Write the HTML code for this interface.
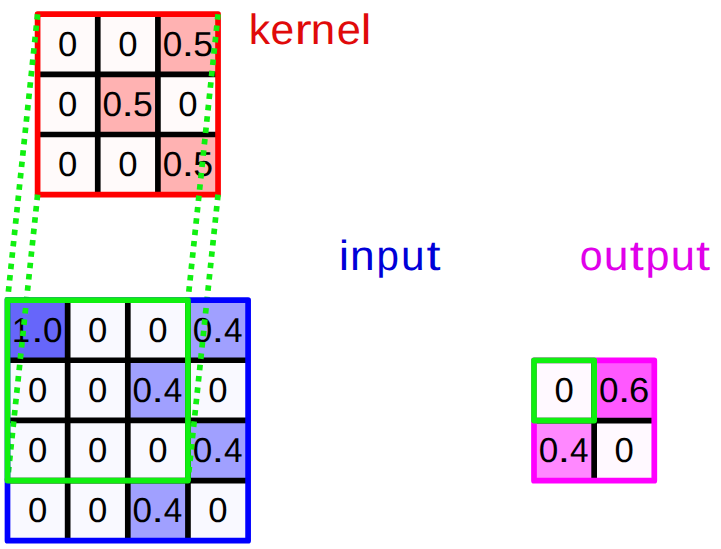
<!DOCTYPE html>
<html><head><meta charset="utf-8"><style>
html,body{margin:0;padding:0;background:#fff;width:721px;height:549px;overflow:hidden}
svg{display:block}
</style></head><body>
<svg width="721" height="549" viewBox="0 0 721 549">
<defs><clipPath id="dc" clipPathUnits="userSpaceOnUse"><rect x="0" y="-60" width="100" height="67.8"/></clipPath></defs>
<rect width="721" height="549" fill="#fff"/>
<rect x="37.60" y="14.20" width="60.65" height="60.65" fill="#fffafa"/>
<rect x="97.75" y="14.20" width="60.65" height="60.65" fill="#fffafa"/>
<rect x="157.90" y="14.20" width="60.65" height="60.65" fill="#ffb2b2"/>
<rect x="37.60" y="74.35" width="60.65" height="60.65" fill="#fffafa"/>
<rect x="97.75" y="74.35" width="60.65" height="60.65" fill="#ffb2b2"/>
<rect x="157.90" y="74.35" width="60.65" height="60.65" fill="#fffafa"/>
<rect x="37.60" y="134.50" width="60.65" height="60.65" fill="#fffafa"/>
<rect x="97.75" y="134.50" width="60.65" height="60.65" fill="#fffafa"/>
<rect x="157.90" y="134.50" width="60.65" height="60.65" fill="#ffb2b2"/>
<line x1="97.75" y1="14.20" x2="97.75" y2="194.65" stroke="#000" stroke-width="5.7"/>
<line x1="37.60" y1="74.35" x2="218.05" y2="74.35" stroke="#000" stroke-width="5.7"/>
<line x1="157.90" y1="14.20" x2="157.90" y2="194.65" stroke="#000" stroke-width="5.7"/>
<line x1="37.60" y1="134.50" x2="218.05" y2="134.50" stroke="#000" stroke-width="5.7"/>
<rect x="37.60" y="14.20" width="180.45" height="180.45" fill="none" stroke="#ff0000" stroke-width="5.7" stroke-linejoin="round"/>
<rect x="7.50" y="300.10" width="60.65" height="60.65" fill="#6666fa"/>
<rect x="67.65" y="300.10" width="60.65" height="60.65" fill="#f9f9ff"/>
<rect x="127.80" y="300.10" width="60.65" height="60.65" fill="#f9f9ff"/>
<rect x="187.95" y="300.10" width="60.65" height="60.65" fill="#a0a0ff"/>
<rect x="7.50" y="360.25" width="60.65" height="60.65" fill="#f9f9ff"/>
<rect x="67.65" y="360.25" width="60.65" height="60.65" fill="#f9f9ff"/>
<rect x="127.80" y="360.25" width="60.65" height="60.65" fill="#a0a0ff"/>
<rect x="187.95" y="360.25" width="60.65" height="60.65" fill="#f9f9ff"/>
<rect x="7.50" y="420.40" width="60.65" height="60.65" fill="#f9f9ff"/>
<rect x="67.65" y="420.40" width="60.65" height="60.65" fill="#f9f9ff"/>
<rect x="127.80" y="420.40" width="60.65" height="60.65" fill="#f9f9ff"/>
<rect x="187.95" y="420.40" width="60.65" height="60.65" fill="#a0a0ff"/>
<rect x="7.50" y="480.55" width="60.65" height="60.65" fill="#f9f9ff"/>
<rect x="67.65" y="480.55" width="60.65" height="60.65" fill="#f9f9ff"/>
<rect x="127.80" y="480.55" width="60.65" height="60.65" fill="#a0a0ff"/>
<rect x="187.95" y="480.55" width="60.65" height="60.65" fill="#f9f9ff"/>
<line x1="67.65" y1="300.10" x2="67.65" y2="540.70" stroke="#000" stroke-width="5.7"/>
<line x1="7.50" y1="360.25" x2="248.10" y2="360.25" stroke="#000" stroke-width="5.7"/>
<line x1="127.80" y1="300.10" x2="127.80" y2="540.70" stroke="#000" stroke-width="5.7"/>
<line x1="7.50" y1="420.40" x2="248.10" y2="420.40" stroke="#000" stroke-width="5.7"/>
<line x1="187.95" y1="300.10" x2="187.95" y2="540.70" stroke="#000" stroke-width="5.7"/>
<line x1="7.50" y1="480.55" x2="248.10" y2="480.55" stroke="#000" stroke-width="5.7"/>
<rect x="534.00" y="360.40" width="60.65" height="60.65" fill="#fff9ff"/>
<rect x="594.15" y="360.40" width="60.65" height="60.65" fill="#ff58ff"/>
<rect x="534.00" y="420.55" width="60.65" height="60.65" fill="#ff88ff"/>
<rect x="594.15" y="420.55" width="60.65" height="60.65" fill="#fff9ff"/>
<line x1="594.15" y1="360.40" x2="594.15" y2="480.70" stroke="#000" stroke-width="5.7"/>
<line x1="534.00" y1="420.55" x2="654.30" y2="420.55" stroke="#000" stroke-width="5.7"/>
<rect x="534.00" y="360.40" width="120.30" height="120.30" fill="none" stroke="#ff00ff" stroke-width="5.7" stroke-linejoin="round"/>
<g font-family="Liberation Sans, sans-serif" text-rendering="geometricPrecision">
<text transform="matrix(1.0039 0 0 1.0000 58.02 55.92)" font-size="34.6" fill="#000">0</text>
<text transform="matrix(1.0039 0 0 1.0000 118.17 55.92)" font-size="34.6" fill="#000">0</text>
<text transform="matrix(1.0160 0 0 1.0000 162.70 55.92)" font-size="34.6" fill="#000">0</text>
<text transform="matrix(1.2764 0 0 1.0000 181.64 55.92)" font-size="34.6" fill="#000">.</text>
<text transform="matrix(1.0280 0 0 1.0000 193.20 55.92)" font-size="34.6" fill="#000">5</text>
<text transform="matrix(1.0039 0 0 1.0000 58.02 116.08)" font-size="34.6" fill="#000">0</text>
<text transform="matrix(1.0160 0 0 1.0000 102.55 116.08)" font-size="34.6" fill="#000">0</text>
<text transform="matrix(1.2764 0 0 1.0000 121.49 116.08)" font-size="34.6" fill="#000">.</text>
<text transform="matrix(1.0280 0 0 1.0000 133.05 116.08)" font-size="34.6" fill="#000">5</text>
<text transform="matrix(1.0039 0 0 1.0000 178.32 116.08)" font-size="34.6" fill="#000">0</text>
<text transform="matrix(1.0039 0 0 1.0000 58.02 176.22)" font-size="34.6" fill="#000">0</text>
<text transform="matrix(1.0039 0 0 1.0000 118.17 176.22)" font-size="34.6" fill="#000">0</text>
<text transform="matrix(1.0160 0 0 1.0000 162.70 176.22)" font-size="34.6" fill="#000">0</text>
<text transform="matrix(1.2764 0 0 1.0000 181.64 176.22)" font-size="34.6" fill="#000">.</text>
<text transform="matrix(1.0280 0 0 1.0000 193.20 176.22)" font-size="34.6" fill="#000">5</text>
<text transform="matrix(0.9387 0 0 1.0000 12.10 341.82)" font-size="34.6" fill="#000">1</text>
<text transform="matrix(1.2764 0 0 1.0000 31.24 341.82)" font-size="34.6" fill="#000">.</text>
<text transform="matrix(1.0160 0 0 1.0000 42.90 341.82)" font-size="34.6" fill="#000">0</text>
<text transform="matrix(1.0039 0 0 1.0000 88.07 341.82)" font-size="34.6" fill="#000">0</text>
<text transform="matrix(1.0039 0 0 1.0000 148.22 341.82)" font-size="34.6" fill="#000">0</text>
<text transform="matrix(1.0160 0 0 1.0000 192.75 341.82)" font-size="34.6" fill="#000">0</text>
<text transform="matrix(1.2764 0 0 1.0000 211.69 341.82)" font-size="34.6" fill="#000">.</text>
<text transform="matrix(0.9637 0 0 1.0000 223.96 341.82)" font-size="34.6" fill="#000">4</text>
<text transform="matrix(1.0039 0 0 1.0000 27.92 401.97)" font-size="34.6" fill="#000">0</text>
<text transform="matrix(1.0039 0 0 1.0000 88.07 401.97)" font-size="34.6" fill="#000">0</text>
<text transform="matrix(1.0160 0 0 1.0000 132.60 401.97)" font-size="34.6" fill="#000">0</text>
<text transform="matrix(1.2764 0 0 1.0000 151.54 401.97)" font-size="34.6" fill="#000">.</text>
<text transform="matrix(0.9637 0 0 1.0000 163.81 401.97)" font-size="34.6" fill="#000">4</text>
<text transform="matrix(1.0039 0 0 1.0000 208.37 401.97)" font-size="34.6" fill="#000">0</text>
<text transform="matrix(1.0039 0 0 1.0000 27.92 462.12)" font-size="34.6" fill="#000">0</text>
<text transform="matrix(1.0039 0 0 1.0000 88.07 462.12)" font-size="34.6" fill="#000">0</text>
<text transform="matrix(1.0039 0 0 1.0000 148.22 462.12)" font-size="34.6" fill="#000">0</text>
<text transform="matrix(1.0160 0 0 1.0000 192.75 462.12)" font-size="34.6" fill="#000">0</text>
<text transform="matrix(1.2764 0 0 1.0000 211.69 462.12)" font-size="34.6" fill="#000">.</text>
<text transform="matrix(0.9637 0 0 1.0000 223.96 462.12)" font-size="34.6" fill="#000">4</text>
<text transform="matrix(1.0039 0 0 1.0000 27.92 522.27)" font-size="34.6" fill="#000">0</text>
<text transform="matrix(1.0039 0 0 1.0000 88.07 522.27)" font-size="34.6" fill="#000">0</text>
<text transform="matrix(1.0160 0 0 1.0000 132.60 522.27)" font-size="34.6" fill="#000">0</text>
<text transform="matrix(1.2764 0 0 1.0000 151.54 522.27)" font-size="34.6" fill="#000">.</text>
<text transform="matrix(0.9637 0 0 1.0000 163.81 522.27)" font-size="34.6" fill="#000">4</text>
<text transform="matrix(1.0039 0 0 1.0000 208.37 522.27)" font-size="34.6" fill="#000">0</text>
<text transform="matrix(1.0039 0 0 1.0000 554.42 402.12)" font-size="34.6" fill="#000">0</text>
<text transform="matrix(1.0160 0 0 1.0000 598.95 402.12)" font-size="34.6" fill="#000">0</text>
<text transform="matrix(1.2764 0 0 1.0000 617.89 402.12)" font-size="34.6" fill="#000">.</text>
<text transform="matrix(1.0529 0 0 1.0000 629.07 402.12)" font-size="34.6" fill="#000">6</text>
<text transform="matrix(1.0160 0 0 1.0000 538.80 462.27)" font-size="34.6" fill="#000">0</text>
<text transform="matrix(1.2764 0 0 1.0000 557.74 462.27)" font-size="34.6" fill="#000">.</text>
<text transform="matrix(0.9637 0 0 1.0000 570.01 462.27)" font-size="34.6" fill="#000">4</text>
<text transform="matrix(1.0039 0 0 1.0000 614.57 462.27)" font-size="34.6" fill="#000">0</text>
<text transform="matrix(1.0082 0 0 1.0000 248.82 44.30)" font-size="42.4" fill="#e00a0a">k</text>
<text transform="matrix(1.0055 0 0 1.0000 270.58 44.30)" font-size="42.4" fill="#e00a0a">e</text>
<text transform="matrix(1.2000 0 0 1.0000 294.70 44.30)" font-size="42.4" fill="#e00a0a">r</text>
<text transform="matrix(1.0341 0 0 1.0000 310.86 44.30)" font-size="42.4" fill="#e00a0a">n</text>
<text transform="matrix(1.0256 0 0 1.0000 336.65 44.30)" font-size="42.4" fill="#e00a0a">e</text>
<text transform="matrix(1.1279 0 0 1.0000 360.77 44.30)" font-size="42.4" fill="#e00a0a">l</text>
<text transform="matrix(1.1123 0 0 1.0000 338.77 269.95)" font-size="42" fill="#0000d8">i</text>
<text transform="matrix(1.0552 0 0 1.0000 349.93 269.95)" font-size="42" fill="#0000d8">n</text>
<text transform="matrix(0.9593 0 0 1.0000 376.49 269.95)" font-size="42" fill="#0000d8" clip-path="url(#dc)">p</text>
<text transform="matrix(1.0099 0 0 1.0000 400.94 269.95)" font-size="42" fill="#0000d8">u</text>
<text transform="matrix(1.2000 0 0 1.0000 426.50 269.95)" font-size="42" fill="#0000d8">t</text>
<text transform="matrix(0.9790 0 0 1.0000 579.67 270.00)" font-size="42" fill="#e000ea">o</text>
<text transform="matrix(1.0604 0 0 1.0000 603.71 270.00)" font-size="42" fill="#e000ea">u</text>
<text transform="matrix(1.2000 0 0 1.0000 629.75 270.00)" font-size="42" fill="#e000ea">t</text>
<text transform="matrix(1.0282 0 0 1.0000 645.61 270.00)" font-size="42" fill="#e000ea" clip-path="url(#dc)">p</text>
<text transform="matrix(1.0380 0 0 1.0000 670.77 270.00)" font-size="42" fill="#e000ea">u</text>
<text transform="matrix(1.2000 0 0 1.0000 696.05 270.00)" font-size="42" fill="#e000ea">t</text>
</g>
<line x1="37.60" y1="14.20" x2="7.50" y2="300.10" stroke="#10f010" stroke-width="5.7" stroke-dasharray="5.5 5.9"/>
<line x1="218.05" y1="14.20" x2="187.95" y2="300.10" stroke="#10f010" stroke-width="5.7" stroke-dasharray="5.5 5.9"/>
<line x1="37.60" y1="194.65" x2="7.50" y2="480.55" stroke="#10f010" stroke-width="5.7" stroke-dasharray="5.5 5.9"/>
<line x1="218.05" y1="194.65" x2="187.95" y2="480.55" stroke="#10f010" stroke-width="5.7" stroke-dasharray="5.5 5.9"/>
<rect x="7.50" y="300.10" width="240.60" height="240.60" fill="none" stroke="#0000ff" stroke-width="5.7" stroke-linejoin="round"/>
<rect x="7.5" y="300.1" width="180.45" height="180.45" fill="none" stroke="#10f010" stroke-width="5.7" stroke-linejoin="round"/>
<rect x="534.0" y="360.4" width="60.15" height="60.15" fill="none" stroke="#10f010" stroke-width="5.7" stroke-linejoin="round"/>
</svg>
</body></html>
